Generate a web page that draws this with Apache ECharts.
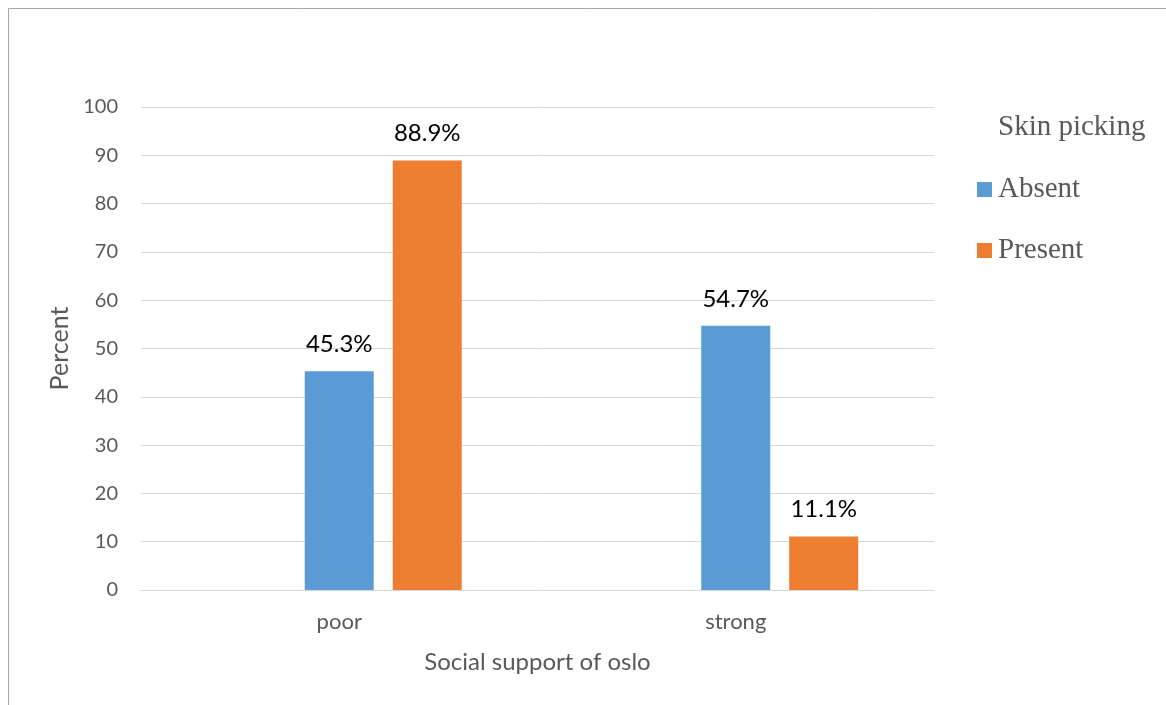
<!DOCTYPE html>
<html><head><meta charset="utf-8">
<script src="https://cdn.jsdelivr.net/npm/echarts@6/dist/echarts.min.js"></script>
<style>html,body{margin:0;padding:0;background:#fff}#c{width:1166px;height:705px}</style>
</head><body><div id="c"></div>
<script>
const categories = ['poor', 'strong'];
const absentValues = [45.3, 54.7];
const presentValues = [88.9, 11.1];
const seriesNames = ['Absent', 'Present'];
const legendTitle = 'Skin picking';

const chart = echarts.init(document.getElementById('c'));
const labelStyle = {show: true, position: 'top', distance: 15, color: '#000', fontSize: 24, fontFamily: 'Lato', formatter: p => p.value.toFixed(1) + '%'};
chart.setOption({
  animation: false,
  textStyle: {fontFamily: 'Lato'},
  grid: {left: 141, right: 232, top: 107, bottom: 115},
  graphic: [
    {type: 'line', shape: {x1: 8.5, y1: 8.5, x2: 1166, y2: 8.5}, style: {stroke: '#a6a6a6', lineWidth: 1}},
    {type: 'line', shape: {x1: 8.5, y1: 8.5, x2: 8.5, y2: 705}, style: {stroke: '#a6a6a6', lineWidth: 1}},
    {type: 'text', left: 998, top: 113, style: {text: legendTitle, fill: '#595959', font: '29px "Liberation Serif"'}}
  ],
  legend: {
    orient: 'vertical', left: 972, top: 170, itemWidth: 15, itemHeight: 15, itemGap: 32,
    icon: 'rect', data: seriesNames,
    textStyle: {fontFamily: 'Liberation Serif', fontSize: 29, color: '#595959', padding: [0, 0, 0, 1]}
  },
  xAxis: {
    type: 'category', data: categories,
    name: 'Social support of oslo', nameLocation: 'middle', nameGap: 60,
    nameTextStyle: {fontSize: 24, color: '#595959', fontFamily: 'Lato'},
    axisLine: {lineStyle: {color: '#d9d9d9', width: 1}},
    axisTick: {show: false},
    axisLabel: {fontSize: 22, color: '#595959', margin: 21, fontFamily: 'Lato'}
  },
  yAxis: {
    type: 'value', min: 0, max: 100, interval: 10,
    name: 'Percent', nameLocation: 'middle', nameGap: 68, nameRotate: 90,
    nameTextStyle: {fontSize: 25, color: '#595959', fontFamily: 'Lato'},
    axisLine: {show: false}, axisTick: {show: false},
    axisLabel: {fontSize: 20, color: '#595959', margin: 23, fontFamily: 'Lato'},
    splitLine: {lineStyle: {color: '#d9d9d9', width: 1}}
  },
  series: [
    {name: '_spacer', type: 'bar', data: [], barWidth: 69, barGap: '27.5%'},
    {name: seriesNames[0], type: 'bar', data: absentValues, barWidth: 69, barGap: '27.5%', itemStyle: {color: '#5b9bd5'}, label: labelStyle},
    {name: seriesNames[1], type: 'bar', data: presentValues, barWidth: 69, barGap: '27.5%', itemStyle: {color: '#ed7d31'}, label: labelStyle}
  ]
});
</script></body></html>
